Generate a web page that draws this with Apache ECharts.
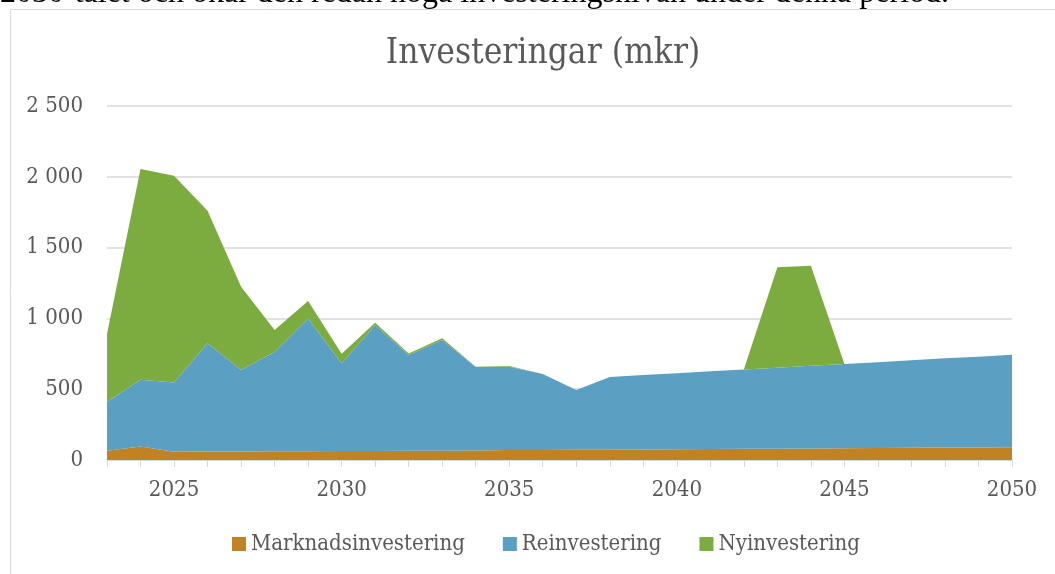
<!DOCTYPE html>
<html>
<head>
<meta charset="utf-8">
<script src="https://cdn.jsdelivr.net/npm/echarts@6/dist/echarts.min.js"></script>
<style>
  html, body { margin: 0; padding: 0; background: #fff; }
  #chart { width: 1055px; height: 574px; }
</style>
</head>
<body>
<div id="chart"></div>
<script>
// årtal
var years = [];
for (var y = 2023; y <= 2050; y++) years.push(String(y));

// investeringar i mkr
var marknad = [66, 95, 59, 60, 60, 61, 62, 63, 64, 65, 66, 67, 70, 71, 72, 73, 74, 76, 78, 79, 80, 81, 83, 85, 87, 88, 89, 90];
var reinvest = [346, 472, 489, 764, 578, 702, 938, 620, 889, 676, 781, 590, 589, 536, 422, 513, 526, 536, 548, 561, 572, 585, 595, 605, 617, 630, 641, 654];
var nyinvest = [478, 1488, 1460, 937, 586, 155, 123, 68, 17, 12, 12, 2, 5, 0, 0, 0, 0, 0, 0, 0, 709, 706, 0, 0, 0, 0, 0, 0];

var yTicks = [0, 500, 1000, 1500, 2000, 2500];

var font = "'DejaVu Serif Condensed', 'DejaVu Serif', serif";
var grey = '#595959';

function fmt(v) {
    return String(v).replace(/\B(?=(\d{3})+(?!\d))/g, ' ');
}

function area(name, data, color) {
    return {
        name: name,
        type: 'line',
        stack: 'tot',
        data: data,
        symbol: 'none',
        lineStyle: { width: 0 },
        areaStyle: { color: color, opacity: 1 },
        itemStyle: { color: color }
    };
}

var myChart = echarts.init(document.getElementById('chart'));

var option = {
    animation: false,
    textStyle: { fontFamily: font },
    title: {
        text: 'Investeringar (mkr)',
        left: 538,
        textAlign: 'center',
        top: 31,
        textStyle: { fontFamily: font, fontSize: 35, fontWeight: 'normal', color: grey }
    },
    graphic: [
        {
            type: 'rect',
            shape: { x: 10.5, y: 9.5, width: 1100, height: 600 },
            style: { fill: 'none', stroke: '#D9D9D9', lineWidth: 1 },
            z: -1
        },
        {
            type: 'text',
            left: 0,
            top: -22,
            style: {
                text: '2030-talet och ökar den redan höga investeringsnivån under denna period.',
                font: '32px "Liberation Serif", serif',
                fill: '#000'
            }
        }
    ],
    legend: {
        bottom: 14,
        left: 227,
        itemWidth: 14,
        itemGap: 38,
        itemHeight: 14,
        icon: 'rect',
        textStyle: { fontFamily: font, fontSize: 22, color: grey },
        data: ['Marknadsinvestering', 'Reinvestering', 'Nyinvestering']
    },
    grid: { left: 107, right: 43, top: 106, bottom: 114 },
    xAxis: {
        type: 'category',
        boundaryGap: false,
        data: years,
        axisLine: { lineStyle: { color: '#D9D9D9', width: 1.5 } },
        axisTick: { interval: 0, length: 7, lineStyle: { color: '#D9D9D9' } },
        axisLabel: {
            interval: function (i, v) { return Number(v) % 5 === 0; },
            margin: 19,
            fontSize: 22,
            color: grey,
            fontFamily: font
        }
    },
    yAxis: {
        type: 'value',
        min: yTicks[0],
        max: yTicks[yTicks.length - 1],
        interval: 500,
        axisLine: { show: false },
        axisTick: { show: false },
        splitLine: { lineStyle: { color: '#D9D9D9', width: 1.5 } },
        axisLabel: {
            margin: 24,
            fontSize: 22,
            color: grey,
            fontFamily: font,
            formatter: fmt
        }
    },
    series: [
        area('Marknadsinvestering', marknad, '#C08222'),
        area('Reinvestering', reinvest, '#5B9FC3'),
        area('Nyinvestering', nyinvest, '#7CAC3F')
    ]
};

myChart.setOption(option);
</script>
</body>
</html>
